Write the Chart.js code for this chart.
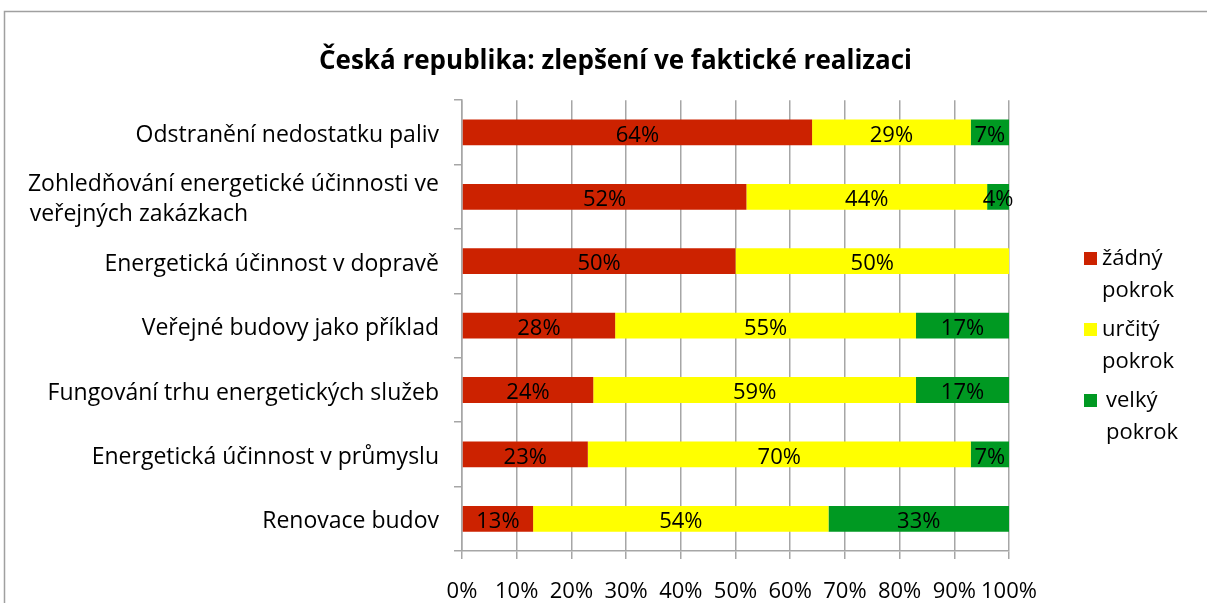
<!DOCTYPE html>
<html>
<head>
<meta charset="utf-8">
<script src="https://cdn.jsdelivr.net/npm/chart.js@4/dist/chart.umd.min.js"></script>
<style>
  html, body { margin: 0; padding: 0; background: #fff; }
  #wrap { width: 1207px; height: 603px; }
</style>
</head>
<body>
<div id="wrap"><canvas id="chartRealizace"></canvas></div>
<script>
// data
const categories = [
  'Odstranění nedostatku paliv',
  ['Zohledňování energetické účinnosti ve', 'veřejných zakázkach'],
  'Energetická účinnost v dopravě',
  'Veřejné budovy jako příklad',
  'Fungování trhu energetických služeb',
  'Energetická účinnost v průmyslu',
  'Renovace budov'
];
const zadnyPokrok = [64, 52, 50, 28, 24, 23, 13];
const urcityPokrok = [29, 44, 50, 55, 59, 70, 54];
const velkyPokrok = [7, 4, 0, 17, 17, 7, 33];
const seriesNames = ['žádný pokrok', 'určitý pokrok', 'velký pokrok'];
const seriesColors = ['#cc2200', '#ffff00', '#009922'];
const xTicks = [0, 10, 20, 30, 40, 50, 60, 70, 80, 90, 100];

const FONT = '"Open Sans", sans-serif';
const GRID = '#a6a6a6';
const Y_FONT = 23;

// zalomený popisek zarovnat doleva v rámci bloku (jako v Excelu)
function padLines(label) {
  if (!Array.isArray(label)) return label;
  const ctx = document.createElement('canvas').getContext('2d');
  ctx.font = Y_FONT + 'px ' + FONT;
  const widths = label.map(l => ctx.measureText(l).width);
  const maxW = Math.max(...widths);
  const sp = ctx.measureText('\u2009').width || 1;
  return label.map((l, i) => l + '\u2009'.repeat(Math.round((maxW - widths[i]) / sp)));
}

// hodnoty uvnitř segmentů
const segmentLabels = {
  id: 'segmentLabels',
  afterDatasetsDraw(chart) {
    const ctx = chart.ctx;
    ctx.save();
    ctx.font = '22px ' + FONT;
    ctx.fillStyle = '#000';
    ctx.textAlign = 'center';
    ctx.textBaseline = 'middle';
    chart.data.datasets.forEach((ds, i) => {
      const meta = chart.getDatasetMeta(i);
      meta.data.forEach((bar, j) => {
        const v = ds.data[j];
        if (!v) return;
        ctx.fillText(v + '%', (bar.x + bar.base) / 2, bar.y + 3);
      });
    });
    ctx.restore();
  }
};

// legenda vpravo, text zalomený na dva řádky
const sideLegend = {
  id: 'sideLegend',
  afterDraw(chart) {
    const ctx = chart.ctx;
    ctx.save();
    ctx.font = '22px ' + FONT;
    ctx.textBaseline = 'middle';
    chart.data.datasets.forEach((ds, i) => {
      const top = 259 + i * 71;
      ctx.fillStyle = ds.backgroundColor;
      ctx.fillRect(1084, top - 7, 13, 13);
      ctx.fillStyle = '#000';
      const words = ds.label.split(' ');
      const tx = i === 2 ? 1106 : 1102;
      ctx.fillText(words[0], tx, top);
      ctx.fillText(words[1], tx, top + 32);
    });
    ctx.restore();
  }
};

// rámeček grafu
const frame = {
  id: 'frame',
  beforeDraw(chart) {
    const ctx = chart.ctx;
    ctx.save();
    ctx.strokeStyle = '#a0a0a0';
    ctx.lineWidth = 1.5;
    ctx.strokeRect(4.5, 11.5, 1400, 800);
    ctx.restore();
  }
};

const ctxReal = document.getElementById('chartRealizace').getContext('2d');
const chartReal = new Chart(ctxReal, {
  type: 'bar',
  data: {
    labels: categories.map(padLines),
    datasets: [
      { label: seriesNames[0], data: zadnyPokrok, backgroundColor: seriesColors[0] },
      { label: seriesNames[1], data: urcityPokrok, backgroundColor: seriesColors[1] },
      { label: seriesNames[2], data: velkyPokrok, backgroundColor: seriesColors[2] }
    ]
  },
  options: {
    indexAxis: 'y',
    responsive: true,
    maintainAspectRatio: false,
    animation: false,
    layout: { padding: { left: 24, right: 0, top: 0, bottom: 0 } },
    datasets: { bar: { barPercentage: 0.4, categoryPercentage: 1 } },
    plugins: {
      legend: { display: false },
      tooltip: { enabled: false },
      title: {
        display: true,
        text: 'Česká republika: zlepšení ve faktické realizaci',
        color: '#000',
        font: { family: FONT, size: 26, weight: 'bold', lineHeight: 1.2 },
        padding: { top: 46, bottom: 23 }
      }
    },
    scales: {
      x: {
        stacked: true,
        min: 0,
        max: 100,
        afterBuildTicks: (scale) => { scale.ticks = xTicks.map(v => ({ value: v })); },
        afterFit: (scale) => { scale.height = 52; },
        ticks: {
          callback: v => v + '%',
          color: '#000',
          font: { family: FONT, size: 22 },
          padding: 20,
          autoSkip: false,
          maxRotation: 0
        },
        grid: { color: GRID, lineWidth: 1.5, tickLength: 8 },
        border: { color: GRID, width: 1.5 }
      },
      y: {
        stacked: true,
        afterFit: (scale) => { scale.width = 438; },
        ticks: {
          color: '#000',
          font: { family: FONT, size: Y_FONT, lineHeight: 1.3 },
          padding: 15,
          labelOffset: 3
        },
        grid: { drawOnChartArea: false, color: GRID, lineWidth: 1.5, tickLength: 8 },
        border: { color: GRID, width: 1.5 }
      },
      // prázdné místo vpravo pro legendu
      legendSpace: {
        axis: 'y',
        position: 'right',
        afterFit: (scale) => { scale.width = 198; },
        ticks: { display: false },
        grid: { display: false },
        border: { display: false }
      }
    }
  },
  plugins: [frame, segmentLabels, sideLegend]
});
</script>
</body>
</html>
